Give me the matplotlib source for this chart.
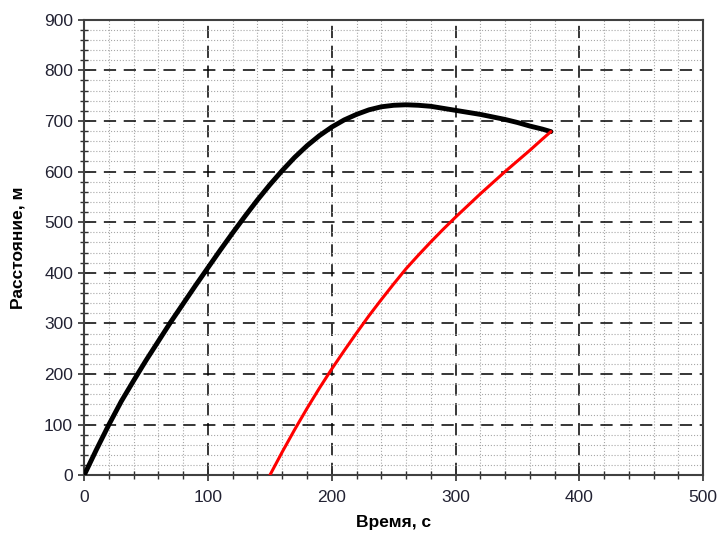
import numpy as np
import matplotlib.pyplot as plt
from matplotlib.ticker import MultipleLocator

# black curve
t_black = [0, 10, 20, 30, 40, 50, 60, 70, 80, 90, 100, 110, 120, 130, 140, 150, 160, 170, 180,
           190, 200, 210, 220, 230, 240, 250, 260, 270, 280, 290, 300, 310, 320, 330, 340, 350,
           360, 370, 377]
s_black = [0, 51, 100, 146, 187, 227, 265, 303, 339, 375, 410, 445, 479, 512, 544, 574, 602, 628, 651,
           671, 688, 702, 713, 722, 728, 731, 732, 731, 729, 725, 721, 717, 713, 708, 703, 697,
           690, 684, 679]

# red curve
t_red = [150, 160, 170, 180, 190, 200, 210, 220, 230, 240, 250, 260, 270, 280, 290, 300, 310, 320,
         330, 340, 350, 360, 370, 377]
s_red = [0, 46, 90, 132, 172, 210, 246, 281, 315, 347, 378, 408, 435, 461, 486, 510, 533, 556,
         578, 600, 621, 642, 664, 679]

plt.rcParams['font.family'] = ['Liberation Sans', 'DejaVu Sans']

fig = plt.figure(figsize=(7.19, 5.34), dpi=100)
ax = fig.add_axes([0.117, 0.110, 0.861, 0.853])

ax.plot(t_black, s_black, color='black', lw=3.5, solid_capstyle='round', solid_joinstyle='round', zorder=3)
ax.plot(t_red, s_red, color='red', lw=2.2, solid_capstyle='round', solid_joinstyle='round', zorder=3)

ax.set_xlim(0, 500)
ax.set_ylim(0, 900)
ax.xaxis.set_major_locator(MultipleLocator(100))
ax.xaxis.set_minor_locator(MultipleLocator(20))
ax.yaxis.set_major_locator(MultipleLocator(100))
ax.yaxis.set_minor_locator(MultipleLocator(20))

ax.grid(which='minor', color='#a8a8a8', linestyle=':', lw=0.8)
ax.grid(which='major', color='black', linestyle=(0, (8, 5)), lw=1.1)
ax.set_axisbelow(True)

for sp in ax.spines.values():
    sp.set_color('#404040')
    sp.set_linewidth(1.5)

ax.tick_params(which='major', direction='inout', length=9, width=1.2, colors='#303030',
               labelsize=12.5, labelcolor='#222233')
ax.tick_params(which='minor', direction='inout', length=6, width=1.0, colors='#303030')
ax.tick_params(axis='x', pad=6)

ax.set_xlabel('Время, с', fontsize=12.5, fontweight='bold', labelpad=7)
ax.set_ylabel('Расстояние, м', fontsize=12.5, fontweight='bold', labelpad=13)

plt.savefig('out.png', dpi=100)
